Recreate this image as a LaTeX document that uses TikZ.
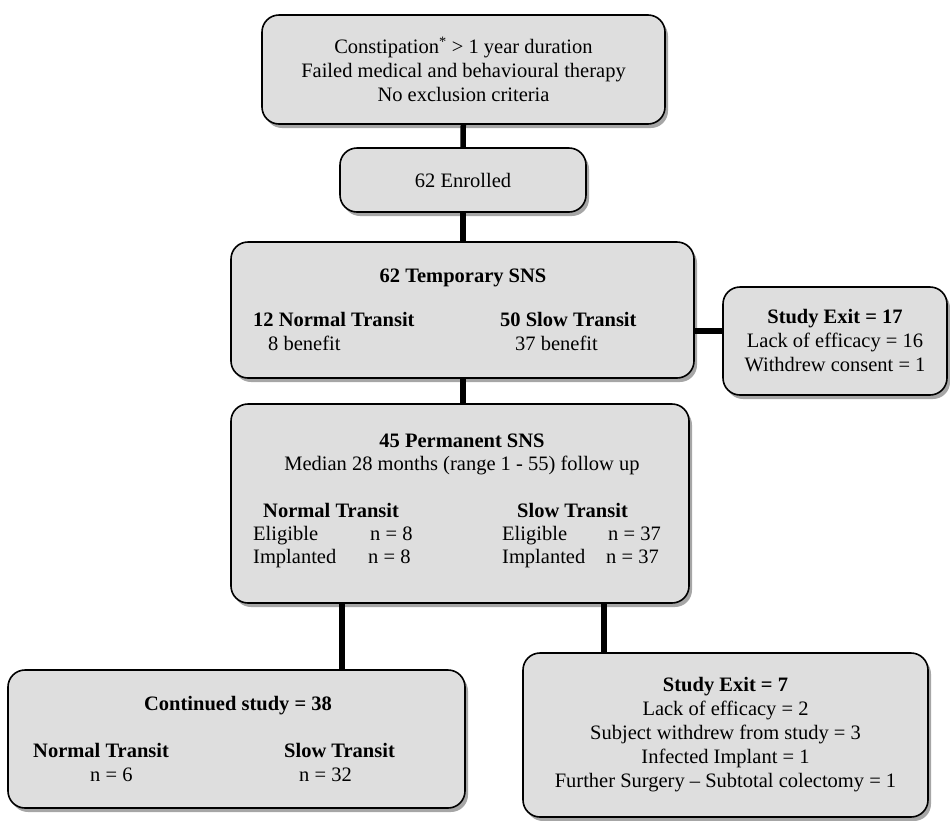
\documentclass[tikz,border=0pt]{standalone}
\usepackage{fontspec}
\setmainfont{Liberation Serif}
\usetikzlibrary{positioning,shadows}
\definecolor{BoxGray}{HTML}{DEDEDE}

\begin{document}
\begin{tikzpicture}[
  x=1pt,y=-1pt,
  every node/.style={font=\fontsize{20.5}{24}\selectfont},
  box/.style={draw=black,line width=1.6pt,fill=BoxGray,rounded corners=17pt,
    drop shadow={shadow xshift=3pt,shadow yshift=-4pt,opacity=0.35,fill=black}},
  txt/.style={inner sep=0pt,align=center},
  lbl/.style={inner sep=0pt,anchor=base west},
  head/.style={lbl,font=\fontsize{20.5}{24}\selectfont\bfseries},
  link/.style={line width=5.5pt,color=black}
]
\useasboundingbox (0,0) rectangle (950,820);
% boxes
\node[box,txt,minimum width=403pt,minimum height=109pt] (crit) at (463.5,69.5)
  {Constipation\textsuperscript{*} > 1 year duration\\Failed medical and behavioural therapy\\No exclusion criteria};
\node[box,txt,minimum width=246pt,minimum height=64pt] (enrol) at (463,180) {62 Enrolled};
\node[box,minimum width=463pt,minimum height=136pt] (temp) at (462.5,310) {};
\node[box,txt,minimum width=224pt,minimum height=108pt] (exitA) at (835,341)
  {\textbf{Study Exit = 17}\\Lack of efficacy = 16\\Withdrew consent = 1};
\node[box,minimum width=458pt,minimum height=199pt] (perm) at (460,503.5) {};
\node[box,minimum width=457pt,minimum height=138pt] (cont) at (236.5,739) {};
\node[box,txt,minimum width=405pt,minimum height=164pt] (exitB) at (725.5,735)
  {\textbf{Study Exit = 7}\\Lack of efficacy = 2\\Subject withdrew from study = 3\\Infected Implant = 1\\Further Surgery -- Subtotal colectomy = 1};

% temporary SNS
\node[head,anchor=base] (tempT) at (463,282) {62 Temporary SNS};
\node[head] (tempN) at (253,326) {12 Normal Transit};
\node[lbl] (tempNb) at (268,350) {8 benefit};
\node[head] (tempS) at (500,326) {50 Slow Transit};
\node[lbl] (tempSb) at (515,350) {37 benefit};

% permanent SNS
\node[head,anchor=base] (permT) at (462,447) {45 Permanent SNS};
\node[lbl,anchor=base] (permM) at (462,470) {Median 28 months (range 1 - 55) follow up};
\node[head] (permN) at (263,517) {Normal Transit};
\node[lbl] (permNe) at (253,540) {Eligible};
\node[lbl] (permNen) at (370,540) {n = 8};
\node[lbl] (permNi) at (253,563) {Implanted};
\node[lbl] (permNin) at (368,563) {n = 8};
\node[head] (permS) at (517,517) {Slow Transit};
\node[lbl] (permSe) at (502,540) {Eligible};
\node[lbl] (permSen) at (608,540) {n = 37};
\node[lbl] (permSi) at (502,563) {Implanted};
\node[lbl] (permSin) at (606,563) {n = 37};

% continued study
\node[head,anchor=base] (contT) at (238,710) {Continued study = 38};
\node[head] (contN) at (33,757) {Normal Transit};
\node[lbl] (contNn) at (90,781) {n = 6};
\node[head] (contS) at (284,757) {Slow Transit};
\node[lbl] (contSn) at (299,781) {n = 32};

% connectors
\coordinate (lx) at (342,0);
\coordinate (rx) at (604,0);
\coordinate (jy) at (0,331);
\draw[link] (crit) -- (enrol);
\draw[link] (enrol) -- (enrol |- temp.north);
\draw[link] (temp.south -| enrol) -- (enrol |- perm.north);
\draw[link] (exitA.west |- jy) -- (temp.east |- jy);
\draw[link] (perm.south -| lx) -- (cont.north -| lx);
\draw[link] (perm.south -| rx) -- (exitB.north -| rx);
\end{tikzpicture}
\end{document}
